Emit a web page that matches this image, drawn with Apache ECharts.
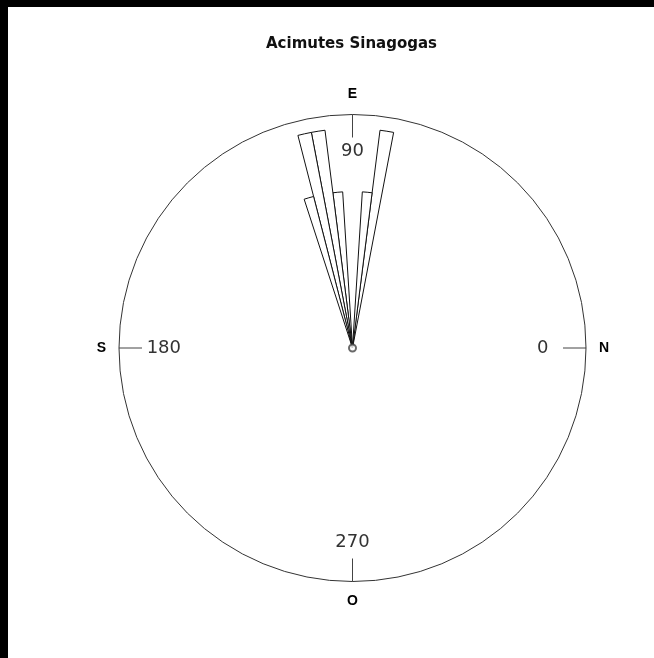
<!DOCTYPE html>
<html>
<head>
<meta charset="utf-8">
<title>Acimutes Sinagogas</title>
<script src="https://cdn.jsdelivr.net/npm/echarts@6/dist/echarts.min.js"></script>
<style>
html, body {
    margin: 0;
    padding: 0;
    background: #000;
}
#chart {
    position: absolute;
    left: 8px;
    top: 7px;
    width: 646px;
    height: 651px;
    background: #fff;
}
</style>
</head>
<body>
<div id="chart"></div>
<script>
// rose diagram, bins of 3.6 degrees (100 bins round the circle)
const binWidth = 3.6;
const binCount = 100;
// start angle of each filled bin (degrees) and its read length (circle = 1)
const binStarts = [79.2, 82.8, 93.6, 97.2, 100.8, 104.4];
const binLengths = [0.94, 0.67, 0.67, 0.94, 0.94, 0.67];

// inner numeric ticks and outer compass letters
const angleTicks = [0, 90, 180, 270];
const compassLabels = ['N', 'E', 'S', 'O'];

const binCategories = [];
const binValues = [];
for (let i = 0; i < binCount; i++) {
    binCategories.push((i * binWidth).toFixed(1));
    binValues.push(null);
}
binStarts.forEach(function (a, k) {
    binValues[Math.round(a / binWidth)] = binLengths[k];
});

const center = [344.5, 341];
const radius = 233.5;

// inner labels are anchored by side, so nudge each one to sit centred
const numFont = { fontFamily: 'DejaVu Sans', fontSize: 18, color: '#333' };
const numRich = {
    r: Object.assign({ padding: [0, 0, 0, 13] }, numFont),
    t: Object.assign({ padding: [0, 0, 16, 0] }, numFont),
    l: Object.assign({ padding: [0, 0, 0, 0] }, numFont),
    b: Object.assign({ padding: [14, 0, 0, 0] }, numFont)
};
const numSide = ['r', 't', 'l', 'b'];

var myChart = echarts.init(document.getElementById('chart'));

myChart.setOption({
    animation: false,
    title: {
        text: 'Acimutes Sinagogas',
        left: 258,
        top: 30,
        padding: 0,
        textStyle: {
            fontFamily: 'DejaVu Sans',
            fontSize: 15,
            fontWeight: 'bold',
            color: '#111'
        }
    },
    polar: [
        { center: center, radius: radius },
        { center: center, radius: radius },
        { center: center, radius: radius }
    ],
    angleAxis: [
        {
            polarIndex: 0,
            type: 'category',
            data: binCategories,
            startAngle: 0,
            clockwise: false,
            boundaryGap: true,
            axisLine: { show: false },
            axisTick: { show: false },
            axisLabel: { show: false },
            splitLine: { show: false }
        },
        {
            polarIndex: 1,
            type: 'value',
            min: 0,
            max: 360,
            interval: 90,
            startAngle: 0,
            clockwise: false,
            axisLine: {
                lineStyle: { color: '#333', width: 1 }
            },
            axisTick: {
                inside: true,
                length: 23,
                lineStyle: { color: '#444', width: 1 }
            },
            axisLabel: {
                margin: -62,
                fontFamily: 'DejaVu Sans',
                fontSize: 18,
                color: '#333',
                formatter: function (v) {
                    const i = angleTicks.indexOf(v);
                    return i >= 0 ? '{' + numSide[i] + '|' + v + '}' : '';
                },
                rich: numRich
            },
            splitLine: { show: false }
        },
        {
            polarIndex: 2,
            type: 'value',
            min: 0,
            max: 360,
            interval: 90,
            startAngle: 0,
            clockwise: false,
            axisLine: { show: false },
            axisTick: { show: false },
            axisLabel: {
                margin: 13,
                fontFamily: 'Liberation Sans',
                fontSize: 14,
                fontWeight: 'bold',
                color: '#000',
                formatter: function (v) {
                    const i = angleTicks.indexOf(v);
                    return i >= 0 ? compassLabels[i] : '';
                }
            },
            splitLine: { show: false }
        }
    ],
    radiusAxis: [
        { polarIndex: 0, min: 0, max: 1, show: false },
        { polarIndex: 1, min: 0, max: 1, show: false },
        { polarIndex: 2, min: 0, max: 1, show: false }
    ],
    series: [
        {
            type: 'bar',
            coordinateSystem: 'polar',
            polarIndex: 0,
            data: binValues,
            barCategoryGap: '0%',
            itemStyle: {
                color: '#fff',
                borderColor: '#111',
                borderWidth: 1
            }
        },
        {
            type: 'scatter',
            coordinateSystem: 'polar',
            polarIndex: 1,
            data: [[0, 0]],
            symbol: 'emptyCircle',
            symbolSize: 7,
            itemStyle: {
                color: '#444',
                borderWidth: 1
            }
        }
    ]
});
</script>
</body>
</html>
